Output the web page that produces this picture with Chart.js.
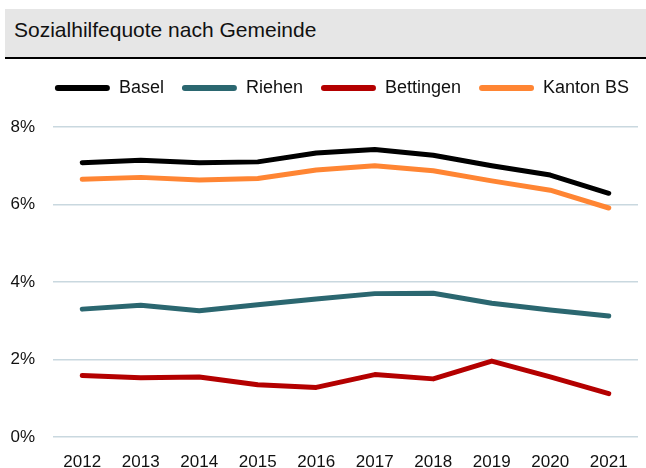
<!DOCTYPE html>
<html>
<head>
<meta charset="utf-8">
<script src="https://cdn.jsdelivr.net/npm/chart.js@4"></script>
<style>
  html, body { margin: 0; padding: 0; background: #fff; }
  #wrap { position: relative; width: 646px; height: 468px; }
  #title {
    position: absolute; left: 5px; top: 9px; width: 632px; height: 48px;
    background: #e6e6e6; border-bottom: 2px solid #000;
    font-family: "Liberation Sans", Arial, sans-serif; font-size: 21px; color: #111;
    line-height: 42px; padding-left: 9px; box-sizing: content-box;
  }
  canvas { position: absolute; left: 0; top: 0; }
</style>
</head>
<body>
<div id="wrap">
  <canvas id="c" width="646" height="468"></canvas>
  <div id="title">Sozialhilfequote nach Gemeinde</div>
</div>
<script>
const years = ['2012','2013','2014','2015','2016','2017','2018','2019','2020','2021'];
const basel =     [7.08, 7.14, 7.08, 7.10, 7.33, 7.42, 7.27, 7.00, 6.76, 6.29];
const riehen =    [3.30, 3.40, 3.26, 3.41, 3.56, 3.70, 3.71, 3.45, 3.28, 3.12];
const bettingen = [1.59, 1.53, 1.55, 1.35, 1.28, 1.61, 1.50, 1.96, 1.55, 1.12];
const kantonBS =  [6.65, 6.70, 6.63, 6.67, 6.89, 7.00, 6.87, 6.61, 6.37, 5.91];
const yTicks = [0, 2, 4, 6, 8];

Chart.defaults.font.family = '"Liberation Sans", Arial, sans-serif';
Chart.defaults.color = '#111';

function ds(label, data, color) {
  return {
    label, data,
    borderColor: color, backgroundColor: color,
    borderWidth: 5, pointRadius: 0, tension: 0,
    borderCapStyle: 'round', borderJoinStyle: 'round'
  };
}

const shiftLegend = {
  id: 'shiftLegend',
  afterLayout(chart) {
    chart.legend.left += 23;
    chart.legend.right += 23;
    chart.legend.top -= 20;
    chart.legend.bottom -= 20;
  }
};

new Chart(document.getElementById('c'), {
  type: 'line',
  data: {
    labels: years,
    datasets: [
      ds('Basel', basel, '#000000'),
      ds('Riehen', riehen, '#2b6770'),
      ds('Bettingen', bettingen, '#b40000'),
      ds('Kanton BS', kantonBS, '#ff8533')
    ]
  },
  plugins: [shiftLegend],
  options: {
    responsive: false,
    animation: false,
    layout: { padding: { top: 81, right: 8, left: 0, bottom: 0 } },
    plugins: {
      title: { display: false },
      tooltip: { enabled: false },
      legend: {
        display: true,
        position: 'top',
        labels: {
          boxWidth: 55,
          boxHeight: 6,
          padding: 18,
          useBorderRadius: true,
          borderRadius: 3,
          font: { size: 18 },
          color: '#111',
          generateLabels(chart) {
            const items = Chart.defaults.plugins.legend.labels.generateLabels(chart);
            items.forEach(it => { it.lineWidth = 0; it.fillStyle = it.strokeStyle; });
            return items;
          }
        }
      }
    },
    scales: {
      x: {
        offset: true,
        grid: { display: false, drawTicks: false },
        border: { display: false },
        ticks: { font: { size: 17 }, color: '#111', padding: 15, maxRotation: 0 },
        afterFit(axis) { axis.height = 31; }
      },
      y: {
        min: 0, max: 8,
        afterBuildTicks(axis) { axis.ticks = yTicks.map(v => ({ value: v })); },
        grid: { color: '#c9d8df', lineWidth: 1.5, drawTicks: false },
        border: { display: false },
        ticks: { font: { size: 17 }, color: '#111', padding: 18, callback: v => v + '%' },
        afterFit(axis) { axis.width = 53; }
      }
    }
  }
});
</script>
</body>
</html>
